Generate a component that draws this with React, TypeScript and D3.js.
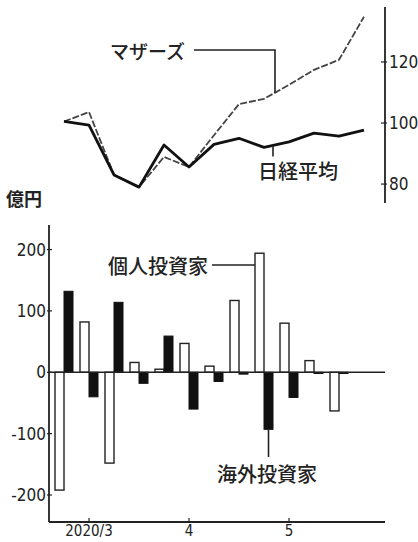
import React from "react";
import * as d3 from "d3";

// ---- data ----
const weeks = ["W1", "W2", "W3", "W4", "W5", "W6", "W7", "W8", "W9", "W10", "W11", "W12"];
const individual = [-192, 82, -148, 16, 5, 47, 10, 117, 194, 80, 19, -63];
const foreign = [132, -40, 114, -18, 59, -60, -15, -3, -93, -41, -2, -2];
const monthTicks = [
  { week: "W2", label: "2020/3" },
  { week: "W6", label: "4" },
  { week: "W10", label: "5" },
];
const barTicks = [200, 100, 0, -100, -200];

const linePoints = [0, 1, 2, 3, 4, 5, 6, 7, 8, 9, 10, 11, 12];
const nikkei = [100.5, 99.3, 83, 79, 92.8, 85.6, 93, 95, 92, 93.8, 96.7, 95.7, 97.7];
const mothers = [100.5, 103.6, 83, 79, 88.9, 85.6, 96, 106.2, 107.9, 112.5, 117.4, 120.7, 134.8];
const lineTicks = [120, 100, 80];

const W = 418;
const H = 542;
const CJK = "'Noto Sans CJK JP', sans-serif";
const NUM = "'Liberation Sans Narrow', 'DejaVu Sans Condensed', 'Liberation Sans', sans-serif";

export default function App() {
  // bottom chart scales
  const xBand = d3.scaleBand<string>().domain(weeks).range([51.5, 351.5]).paddingInner(0.28).paddingOuter(0.14);
  const xSub = d3.scaleBand<string>().domain(["ind", "for"]).range([0, xBand.bandwidth()]);
  const yBar = d3.scaleLinear().domain([-244, 240]).range([522, 225]);

  // top chart scales
  const xLine = d3.scaleLinear().domain([0, 12]).range([64, 364]);
  const yLine = d3.scaleLinear().domain([73.8, 138]).range([203, 7]);

  const lineGen = (vals: number[]) =>
    d3
      .line<number>()
      .x((_, i) => xLine(linePoints[i]))
      .y((d) => yLine(d))(vals) as string;

  const axisX = 49;
  const rightAxisX = 385;

  // annotation anchors (derived from scales)
  const mothersAnchorT = 8.44;
  const mothersAnchorY = yLine(d3.interpolateNumber(mothers[8], mothers[9])(0.44));
  const nikkeiAnchorT = 8.36;
  const nikkeiAnchorY = yLine(d3.interpolateNumber(nikkei[8], nikkei[9])(0.36));
  const bigIndWeek = "W9";
  const bigIndX = (xBand(bigIndWeek) as number) + (xSub("ind") as number);
  const bigForX = (xBand(bigIndWeek) as number) + (xSub("for") as number) + xSub.bandwidth() / 2;

  return (
    <svg width={W} height={H} style={{ position: "absolute", left: 0, top: 0, background: "#fff" }}>
      {/* ---------- top line chart ---------- */}
      <line x1={rightAxisX} x2={rightAxisX} y1={7} y2={203} stroke="#222" strokeWidth={1.8} />
      {lineTicks.map((t) => (
        <g key={t}>
          <line x1={rightAxisX - 4} x2={rightAxisX + 2} y1={yLine(t)} y2={yLine(t)} stroke="#222" strokeWidth={1.2} />
          <text x={rightAxisX + 4} y={yLine(t)} dy="0.36em" fontFamily={NUM} fontSize={17} fill="#222">
            {t}
          </text>
        </g>
      ))}
      <path d={lineGen(mothers)} fill="none" stroke="#444" strokeWidth={1.8} strokeDasharray="7 2" />
      <path d={lineGen(nikkei)} fill="none" stroke="#111" strokeWidth={2.8} strokeLinejoin="round" />

      {/* Mothers label */}
      <text x={110} y={52} dy="0.36em" fontFamily={CJK} fontSize={19} fontWeight={500} fill="#222">
        マザーズ
      </text>
      <polyline
        points={`194,50 ${xLine(mothersAnchorT)},50 ${xLine(mothersAnchorT)},${mothersAnchorY}`}
        fill="none"
        stroke="#222"
        strokeWidth={1.6}
      />
      {/* Nikkei label */}
      <line
        x1={xLine(nikkeiAnchorT)}
        x2={xLine(nikkeiAnchorT)}
        y1={nikkeiAnchorY}
        y2={nikkeiAnchorY + 11}
        stroke="#222"
        strokeWidth={1.6}
      />
      <text x={258} y={172} dy="0.36em" fontFamily={CJK} fontSize={20} fontWeight={500} fill="#222">
        日経平均
      </text>

      {/* unit */}
      <text x={6} y={200} dy="0.36em" fontFamily={CJK} fontSize={18} fontWeight={700} fill="#222">
        億円
      </text>

      {/* ---------- bottom bar chart ---------- */}
      <line x1={axisX} x2={axisX} y1={225} y2={522} stroke="#222" strokeWidth={1.8} />
      <line x1={axisX} x2={385} y1={522} y2={522} stroke="#222" strokeWidth={1.8} />
      {barTicks.map((t) => (
        <g key={t}>
          <line x1={axisX - 2} x2={axisX + 3} y1={yBar(t)} y2={yBar(t)} stroke="#222" strokeWidth={1.2} />
          <text
            x={axisX - 3}
            y={yBar(t)}
            dy="0.36em"
            textAnchor="end"
            fontFamily={NUM}
            fontSize={17}
            fill="#222"
          >
            {t}
          </text>
        </g>
      ))}
      {monthTicks.map((m) => {
        const x = (xBand(m.week) as number) + xBand.bandwidth() / 2;
        return (
          <g key={m.label}>
            <line x1={x} x2={x} y1={518} y2={522} stroke="#222" strokeWidth={1.2} />
            <text x={x} y={536} textAnchor="middle" fontFamily={NUM} fontSize={15} fill="#222">
              {m.label}
            </text>
          </g>
        );
      })}

      {weeks.map((w, i) => {
        const x0 = xBand(w) as number;
        const ind = individual[i];
        const fo = foreign[i];
        return (
          <g key={w}>
            <rect
              x={x0 + (xSub("ind") as number)}
              y={Math.min(yBar(0), yBar(ind))}
              width={xSub.bandwidth()}
              height={Math.abs(yBar(ind) - yBar(0))}
              fill="#fff"
              stroke="#222"
              strokeWidth={1.4}
            />
            <rect
              x={x0 + (xSub("for") as number)}
              y={Math.min(yBar(0), yBar(fo))}
              width={xSub.bandwidth()}
              height={Math.abs(yBar(fo) - yBar(0))}
              fill="#111"
              stroke="#111"
              strokeWidth={1}
            />
          </g>
        );
      })}
      <line x1={axisX} x2={385} y1={yBar(0)} y2={yBar(0)} stroke="#222" strokeWidth={1.4} />

      {/* annotations */}
      <text x={108} y={267} dy="0.36em" fontFamily={CJK} fontSize={20} fontWeight={500} fill="#222">
        個人投資家
      </text>
      <line x1={212} x2={bigIndX} y1={265} y2={265} stroke="#222" strokeWidth={1.6} />
      <line
        x1={bigForX}
        x2={bigForX}
        y1={yBar(foreign[8])}
        y2={457}
        stroke="#222"
        strokeWidth={1.6}
      />
      <text x={217} y={475} dy="0.36em" fontFamily={CJK} fontSize={20} fontWeight={500} fill="#222">
        海外投資家
      </text>
    </svg>
  );
}
